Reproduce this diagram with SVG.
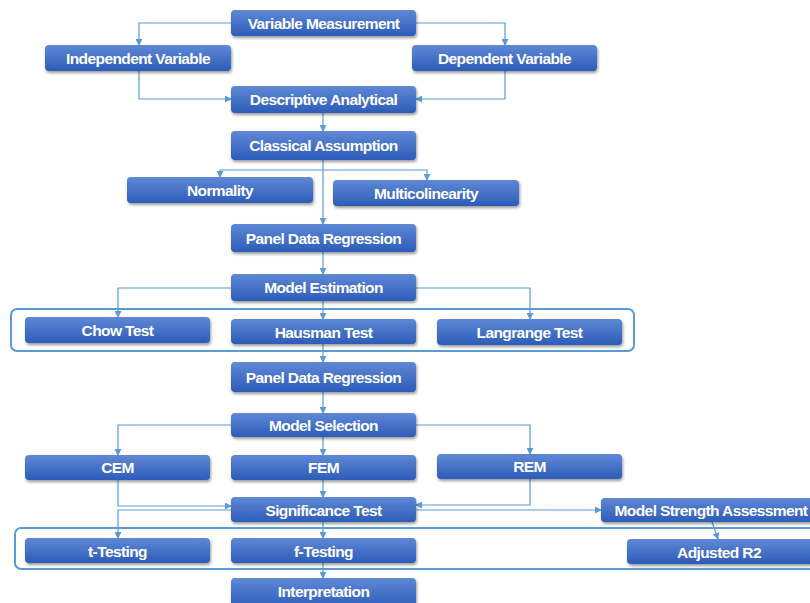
<svg xmlns="http://www.w3.org/2000/svg" width="810" height="603" viewBox="0 0 810 603">
<defs>
<linearGradient id="g" x1="0" y1="0" x2="0" y2="1">
<stop offset="0" stop-color="#6088d6"/>
<stop offset="1" stop-color="#2c5cb8"/>
</linearGradient>
<filter id="sh" x="-10%" y="-30%" width="120%" height="170%">
<feGaussianBlur in="SourceAlpha" stdDeviation="1.5"/>
<feOffset dx="1" dy="2" result="b"/>
<feComponentTransfer><feFuncA type="linear" slope="0.4"/></feComponentTransfer>
<feMerge><feMergeNode/><feMergeNode in="SourceGraphic"/></feMerge>
</filter>
<marker id="a" viewBox="0 0 8 8" refX="7" refY="4" markerWidth="7" markerHeight="7" orient="auto" markerUnits="userSpaceOnUse">
<path d="M0,0 L8,4 L0,8 z" fill="#5b9bd5"/>
</marker>
</defs>
<style>
.n rect{fill:url(#g);filter:url(#sh)}
.n text{fill:#fff;font-family:"Liberation Sans",Arial,sans-serif;font-weight:bold;font-size:15.5px;text-anchor:middle;letter-spacing:-0.6px}
.c path{fill:none;stroke:#5b9bd5;stroke-width:1.2;marker-end:url(#a)}
.grp{fill:none;stroke:#5b9bd5;stroke-width:2}
</style>
<rect width="810" height="603" fill="#fff"/>
<g id="groups">
<rect class="grp" x="11" y="309" width="623" height="42" rx="6"/>
<rect class="grp" x="15" y="528" width="805" height="41" rx="6"/>
</g>
<g id="connectors" class="c">
<path d="M231,23 H139 V45"/>
<path d="M416,23 H505 V45"/>
<path d="M139,71 V99 H231"/>
<path d="M505,71 V99 H416"/>
<path d="M323,113 V131"/>
<path d="M323,160 V170 H220 V177"/>
<path d="M323,170 H427 V180"/>
<path d="M323,170 V224"/>
<path d="M323,252 V274"/>
<path d="M231,288 H118 V317"/>
<path d="M416,288 H530 V319"/>
<path d="M323,301 V319"/>
<path d="M323,344 V362"/>
<path d="M323,392 V413"/>
<path d="M231,425 H118 V455"/>
<path d="M416,425 H530 V454"/>
<path d="M323,437 V455"/>
<path d="M118,480 V506 H231"/>
<path d="M530,479 V505 H416"/>
<path d="M323,480 V497"/>
<path d="M416,510 H601"/>
<path d="M231,510 H118 V538"/>
<path d="M323,522 V538"/>
<path d="M712,522 L718,539"/>
<path d="M323,563 V578"/>
</g>
<g id="variable-measurement" class="n"><rect x="231" y="10" width="185" height="26" rx="4"/><text x="323.5" y="28.5">Variable Measurement</text></g>
<g id="independent-variable" class="n"><rect x="45" y="45" width="186" height="26" rx="4"/><text x="138" y="64">Independent Variable</text></g>
<g id="dependent-variable" class="n"><rect x="412" y="45" width="185" height="26" rx="4"/><text x="504.5" y="64">Dependent Variable</text></g>
<g id="descriptive-analytical" class="n"><rect x="231" y="86" width="185" height="27" rx="4"/><text x="323.5" y="105">Descriptive Analytical</text></g>
<g id="classical-assumption" class="n"><rect x="231" y="131" width="185" height="29" rx="4"/><text x="323.5" y="151">Classical Assumption</text></g>
<g id="normality" class="n"><rect x="127" y="177" width="186" height="26" rx="4"/><text x="220" y="195.5">Normality</text></g>
<g id="multicolinearity" class="n"><rect x="333" y="180" width="186" height="26" rx="4"/><text x="426" y="199">Multicolinearity</text></g>
<g id="panel-data-regression-1" class="n"><rect x="231" y="224" width="185" height="28" rx="4"/><text x="323.5" y="244">Panel Data Regression</text></g>
<g id="model-estimation" class="n"><rect x="231" y="274" width="185" height="27" rx="4"/><text x="323.5" y="293">Model Estimation</text></g>
<g id="chow-test" class="n"><rect x="25" y="317" width="185" height="26" rx="4"/><text x="117.5" y="335.5">Chow Test</text></g>
<g id="hausman-test" class="n"><rect x="231" y="319" width="185" height="25" rx="4"/><text x="323.5" y="337.5">Hausman Test</text></g>
<g id="langrange-test" class="n"><rect x="437" y="319" width="185" height="26" rx="4"/><text x="529.5" y="338">Langrange Test</text></g>
<g id="panel-data-regression-2" class="n"><rect x="231" y="362" width="185" height="30" rx="4"/><text x="323.5" y="383">Panel Data Regression</text></g>
<g id="model-selection" class="n"><rect x="231" y="413" width="185" height="24" rx="4"/><text x="323.5" y="430.5">Model Selection</text></g>
<g id="cem" class="n"><rect x="25" y="455" width="185" height="25" rx="4"/><text x="117.5" y="473">CEM</text></g>
<g id="fem" class="n"><rect x="231" y="455" width="185" height="25" rx="4"/><text x="323.5" y="473">FEM</text></g>
<g id="rem" class="n"><rect x="437" y="454" width="185" height="25" rx="4"/><text x="529.5" y="472">REM</text></g>
<g id="significance-test" class="n"><rect x="231" y="497" width="185" height="25" rx="4"/><text x="323.5" y="516">Significance Test</text></g>
<g id="model-strength-assessment" class="n"><rect x="601" y="498" width="215" height="24" rx="4"/><text x="711" y="515.5">Model Strength Assessment</text></g>
<g id="t-testing" class="n"><rect x="25" y="538" width="185" height="25" rx="4"/><text x="117.5" y="556.5">t-Testing</text></g>
<g id="f-testing" class="n"><rect x="231" y="538" width="185" height="25" rx="4"/><text x="323.5" y="556.5">f-Testing</text></g>
<g id="adjusted-r2" class="n"><rect x="627" y="539" width="190" height="25" rx="4"/><text x="719" y="557.5">Adjusted R2</text></g>
<g id="interpretation" class="n"><rect x="231" y="578" width="185" height="30" rx="4"/><text x="323.5" y="597">Interpretation</text></g>
</svg>
